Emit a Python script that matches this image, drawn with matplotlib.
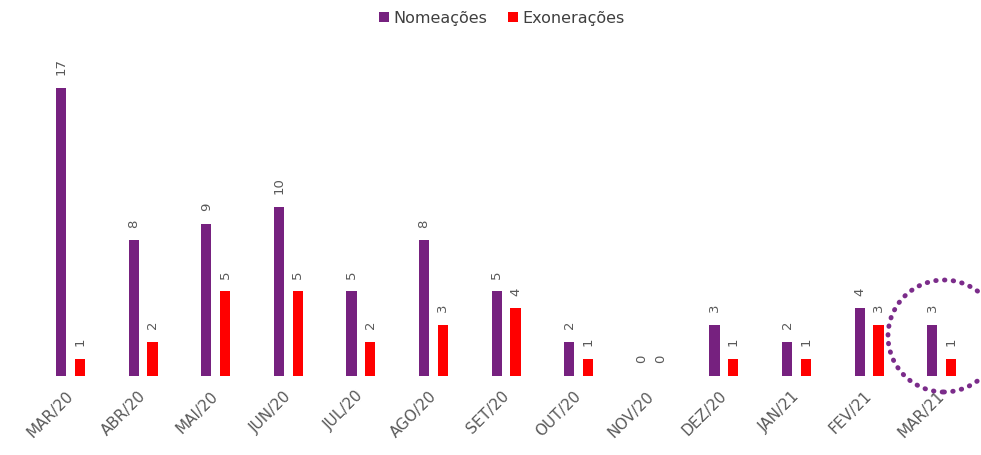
import matplotlib
matplotlib.use("Agg")
import matplotlib.pyplot as plt
from matplotlib.patches import Ellipse
from matplotlib.transforms import ScaledTranslation
import numpy as np

months = ["MAR/20", "ABR/20", "MAI/20", "JUN/20", "JUL/20", "AGO/20", "SET/20",
          "OUT/20", "NOV/20", "DEZ/20", "JAN/21", "FEV/21", "MAR/21"]
nomeacoes = [17, 8, 9, 10, 5, 8, 5, 2, 0, 3, 2, 4, 3]
exoneracoes = [1, 2, 5, 5, 2, 3, 4, 1, 0, 1, 1, 3, 1]

purple = "#76217F"
red = "#FF0000"
gray = "#595959"

W, H = 981, 455
fig = plt.figure(figsize=(W / 100, H / 100), dpi=100)

# axes placement in pixels
base_px = 376
top_px = 40
unit_x = 72.6
x0_px = 70.5
unit_y = (376 - 88) / 17
ax = fig.add_axes([0, 1 - base_px / H, 1, (base_px - top_px) / H])
ax.set_xlim(-x0_px / unit_x, (W - x0_px) / unit_x)
ax.set_ylim(0, (base_px - top_px) / unit_y)

x = np.arange(len(months))
off = 0.13
bw = 0.14
b1 = ax.bar(x - off, nomeacoes, bw, color=purple, label="Nomeações")
b2 = ax.bar(x + off, exoneracoes, bw, color=red, label="Exonerações")

gap = 0.75
for xi, v in zip(x - off, nomeacoes):
    ax.text(xi, v + gap, str(v), rotation=90, ha="center", va="bottom",
            color=gray, fontsize=9.5)
for xi, v in zip(x + off, exoneracoes):
    ax.text(xi, v + gap, str(v), rotation=90, ha="center", va="bottom",
            color=gray, fontsize=9.5)

for s in ax.spines.values():
    s.set_visible(False)
ax.set_yticks([])
ax.set_xticks(x)
ax.set_xticklabels(months, rotation=45, ha="right", rotation_mode="anchor",
                   color=gray, fontsize=11)
ax.tick_params(axis="x", length=0, pad=9)
shift = ScaledTranslation(-5 / 100, 0, fig.dpi_scale_trans)
for lbl in ax.get_xticklabels():
    lbl.set_transform(lbl.get_transform() + shift)

leg = fig.legend(handles=[b1, b2], loc="center", bbox_to_anchor=(502 / W, 1 - 18 / H),
                 ncol=2, frameon=False, fontsize=11.5, handlelength=0.6, handleheight=0.6,
                 handletextpad=0.3, columnspacing=1.3)
for t in leg.get_texts():
    t.set_color("#404040")

circ = Ellipse((944 / W, 1 - 336 / H), 112 / W, 112 / H, transform=fig.transFigure,
               fill=False, edgecolor="#7B2C8A", linestyle=(0, (0.1, 1.7)), linewidth=3.5,
               capstyle="round", clip_on=False)
fig.patches.append(circ)

fig.savefig("out.png", dpi=100)
